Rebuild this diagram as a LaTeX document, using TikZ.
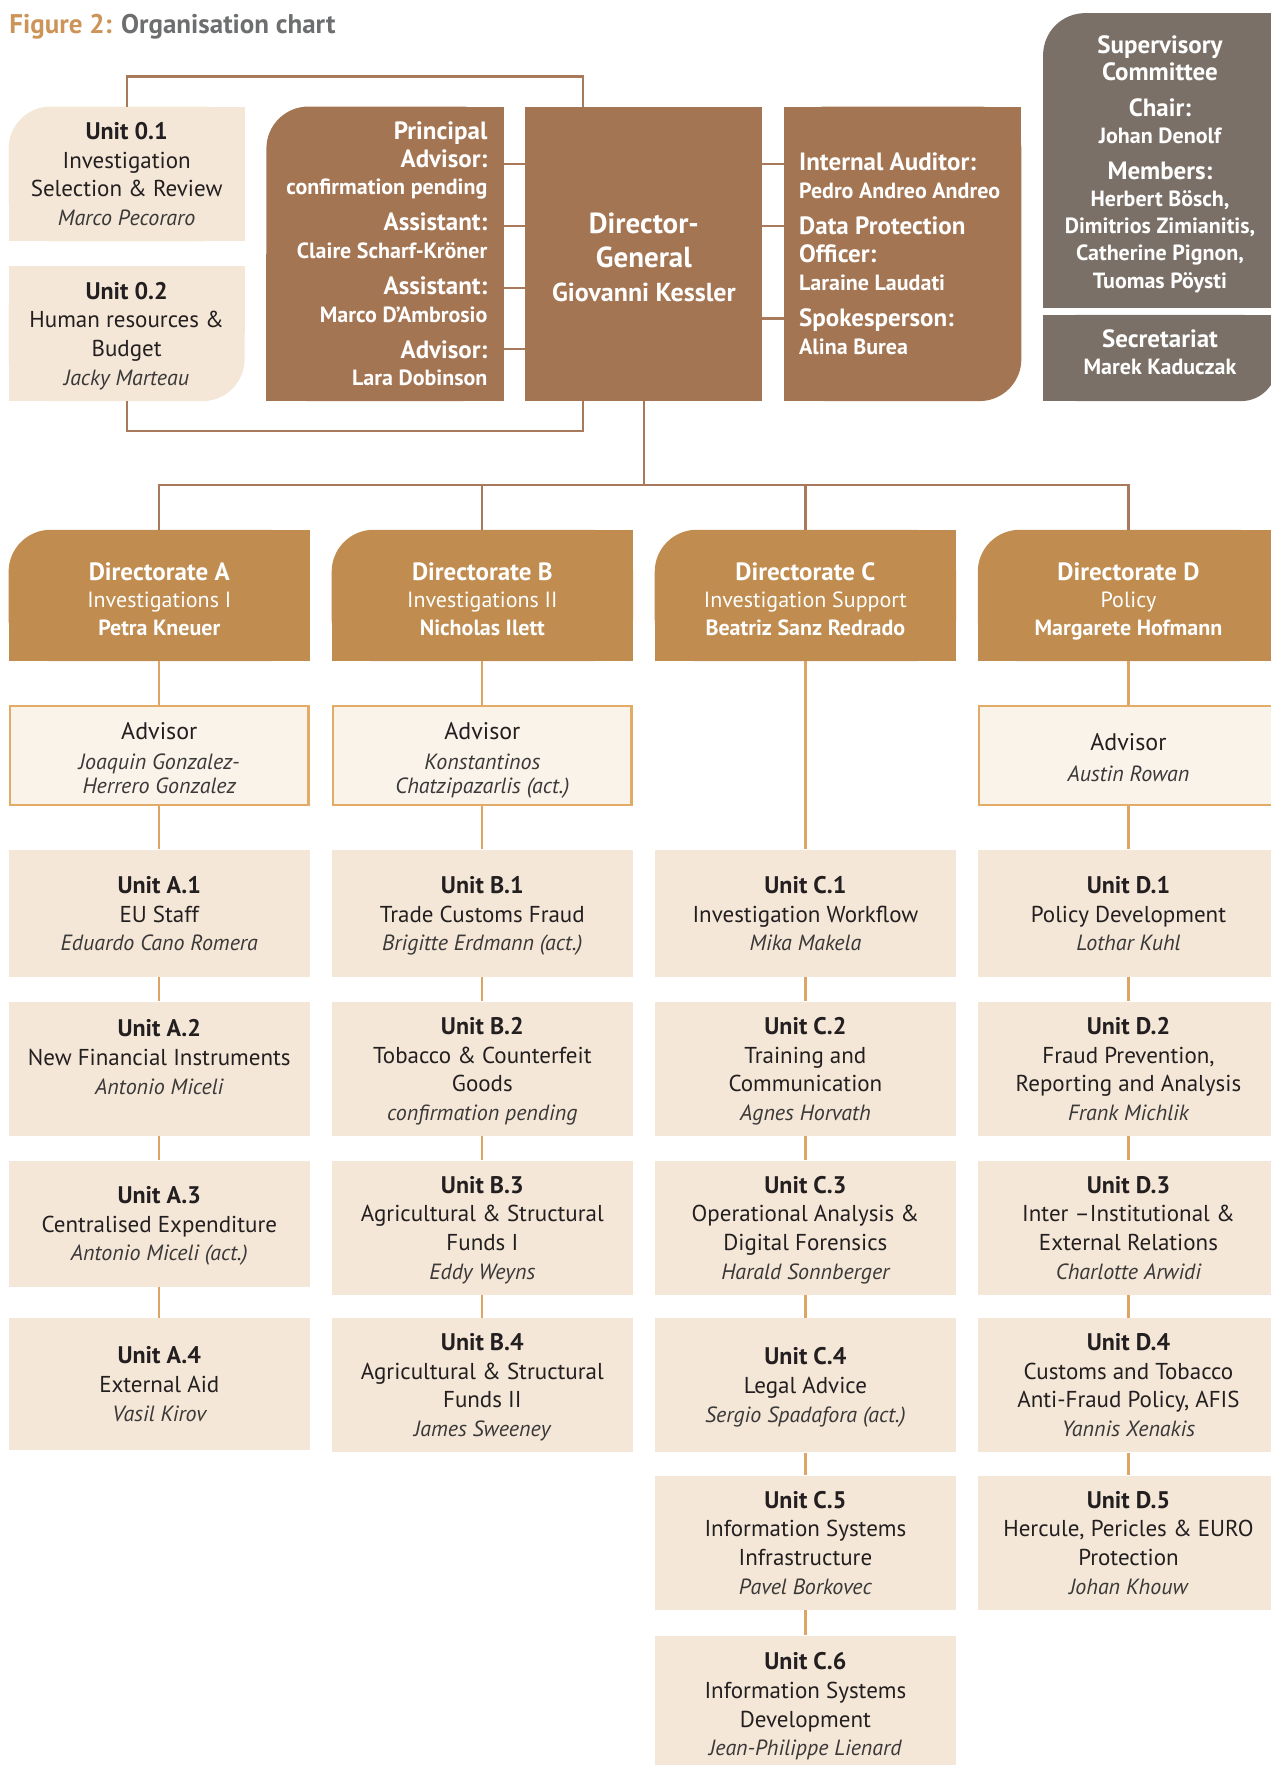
\documentclass[tikz,border=0pt]{standalone}
\usepackage{fontspec}
\setmainfont{PT Sans}
\usetikzlibrary{backgrounds}
\definecolor{brownbox}{HTML}{A47553}
\definecolor{ochre}{HTML}{C08C4F}
\definecolor{graybox}{HTML}{7A7067}
\definecolor{unitfill}{HTML}{F4E7D7}
\definecolor{advfill}{HTML}{FAF3EA}
\definecolor{advline}{HTML}{E2AC66}
\definecolor{linebrown}{HTML}{A8795A}
\definecolor{lineorange}{HTML}{DCA566}
\definecolor{titleorange}{HTML}{CC9459}
\definecolor{titlegray}{HTML}{6D6E70}
\definecolor{txt}{HTML}{231F20}
\definecolor{nametxt}{HTML}{3A3838}
\newcommand\ttl[1]{{\fontsize{12}{14}\selectfont\bfseries #1}}
\newcommand\nm[1]{{\fontsize{11}{14}\selectfont\itshape\color{nametxt}\raisebox{0pt}[\height][0pt]{#1}}}
\newcommand\lab[1]{{\fontsize{12.5}{14}\selectfont\bfseries #1}}
\newcommand\who[1]{{\fontsize{11}{14}\selectfont\bfseries\raisebox{0pt}[\height][0pt]{#1}}}
\newcommand\tp[1]{\rule{0pt}{#1}}
\newcommand\tlround[3]{%
  \fill[#1, rounded corners=#3] (#2.south west) rectangle (#2.north east);
  \fill[#1] (#2.south west) rectangle (#2.east);
  \fill[#1] (#2.south) rectangle (#2.north east);}
\newcommand\brround[3]{%
  \fill[#1, rounded corners=#3] (#2.south west) rectangle (#2.north east);
  \fill[#1] (#2.west) rectangle (#2.north east);
  \fill[#1] (#2.south west) rectangle (#2.north);}
\tikzset{
  every node/.style={inner sep=0pt, text=txt},
  ubox/.style={fill=unitfill, minimum width=150.3pt, minimum height=#1, align=center,
    font=\fontsize{11.5}{14.35}\selectfont},
  advbox/.style={fill=advfill, draw=advline, line width=1.1pt, minimum width=149.2pt,
    minimum height=49.5pt, align=center, font=\fontsize{11}{11.8}\selectfont},
  dirbox/.style={minimum width=150.3pt, minimum height=65.3pt, align=center, text=white,
    font=\fontsize{11}{13.8}\selectfont},
  topbox/.style 2 args={minimum width=#1, minimum height=#2},
  brownline/.style={draw=linebrown, line width=1.1pt},
  orangeline/.style={draw=lineorange, line width=1.1pt},
}
\begin{document}
\begin{tikzpicture}[x=0.5629pt,y=-0.5629pt]
\useasboundingbox (0,0) rectangle (1129,1568);

% title
\node[anchor=base west, font=\fontsize{13.5}{16}\selectfont\bfseries] (title) at (8,30)
  {\color{titleorange}Figure 2: \color{titlegray}Organisation chart};

% top row
\node[topbox={117.6pt}{67pt}, align=center, font=\fontsize{11.5}{14.35}\selectfont] (u01) at (112.5,154.5)
  {\ttl{Unit 0.1}\\Investigation\\Selection \& Review\\\nm{Marco Pecoraro}};
\node[topbox={117.6pt}{67pt}, align=center, font=\fontsize{11.5}{14.35}\selectfont] (u02) at (112.5,296.5)
  {\ttl{Unit 0.2}\\Human resources \&\\Budget\\\nm{Jacky Marteau}};
\node[topbox={118.2pt}{146.9pt}] (pa) at (342,225.5) {};
\node[topbox={118.2pt}{146.9pt}, align=center, text=white, font=\fontsize{14.5}{17}\selectfont\bfseries] (dg) at (572,225.5)
  {\tp{13.8pt}Director-\\General\\{\fontsize{13}{17}\selectfont Giovanni Kessler}};
\node[topbox={118.2pt}{146.9pt}] (ra) at (802,225.5) {};
\node[topbox={116.5pt}{146.9pt}, align=center, text=white, font=\fontsize{11}{13.6}\selectfont] (sup) at (1030.5,142.5)
  {\tp{10.5pt}\lab{Supervisory}\\\lab{Committee}\\[4.2pt]\lab{Chair:}\\\who{Johan Denolf}\\[4.2pt]\lab{Members:}\\\who{Herbert Bösch,}\\\who{Dimitrios Zimianitis,}\\\who{Catherine Pignon,}\\\who{Tuomas Pöysti}};
\node[topbox={116.5pt}{42.8pt}] (sec) at (1030.5,318) {};
\node[align=center, text=white, font=\fontsize{11}{13.6}\selectfont] (sectext) at ([yshift=3.1pt]sec.center)
  {\lab{Secretariat}\\\who{Marek Kaduczak}};

\node[anchor=east, align=right, text=white, font=\fontsize{11}{13.8}\selectfont] (patext) at ([xshift=-7.9pt]pa.east)
  {\lab{Principal}\\\lab{Advisor:}\\\who{confirmation pending}\\[4.2pt]\lab{Assistant:}\\\who{Claire Scharf-Kröner}\\[4.2pt]\lab{Assistant:}\\\who{Marco D’Ambrosio}\\[4.2pt]\lab{Advisor:}\\\who{Lara Dobinson}};
\node[anchor=west, align=left, text=white, font=\fontsize{11}{14}\selectfont] (ratext) at ([xshift=7.3pt]ra.west)
  {\lab{Internal Auditor:}\\\who{Pedro Andreo Andreo}\\[3.9pt]\lab{Data Protection}\\\lab{Officer:}\\\who{Laraine Laudati}\\[3.9pt]\lab{Spokesperson:}\\\who{Alina Burea}};

% directorates
\node[dirbox] (dirA) at (141.5,529) {\tp{12.4pt}\lab{Directorate A}\\Investigations I\\\who{Petra Kneuer}};
\node[dirbox] (dirB) at (428.5,529) {\tp{12.4pt}\lab{Directorate B}\\Investigations II\\\who{Nicholas Ilett}};
\node[dirbox] (dirC) at (715.5,529) {\tp{12.4pt}\lab{Directorate C}\\Investigation Support\\\who{Beatriz Sanz Redrado}};
\node[dirbox] (dirD) at (1002.5,529) {\tp{12.4pt}\lab{Directorate D}\\Policy\\\who{Margarete Hofmann}};

% advisors
\node[advbox] (advA) at (141.5,671) {\tp{10.8pt}{\fontsize{12}{12}\selectfont Advisor}\\[3.4pt]\nm{Joaquin Gonzalez-}\\\nm{Herrero Gonzalez}};
\node[advbox] (advB) at (428.5,671) {\tp{10.8pt}{\fontsize{12}{12}\selectfont Advisor}\\[3.4pt]\nm{Konstantinos}\\\nm{Chatzipazarlis (act.)}};
\node[advbox] (advD) at (1002.5,671) {\tp{10.8pt}{\fontsize{12}{12}\selectfont Advisor}\\[3.4pt]\nm{Austin Rowan}};

% units A
\node[ubox=63.6pt] (A1) at (141.5,811.5) {\ttl{Unit A.1}\\EU Staff\\\nm{Eduardo Cano Romera}};
\node[ubox=67pt] (A2) at (141.5,949.5) {\ttl{Unit A.2}\\New Financial Instruments\\\nm{Antonio Miceli}\rule[-11.8pt]{0pt}{11.8pt}};
\node[ubox=63pt] (A3) at (141.5,1087) {\ttl{Unit A.3}\\Centralised Expenditure\\\nm{Antonio Miceli (act.)}};
\node[ubox=65.9pt] (A4) at (141.5,1229.5) {\ttl{Unit A.4}\\External Aid\\\nm{Vasil Kirov}};
% units B
\node[ubox=63.6pt] (B1) at (428.5,811.5) {\ttl{Unit B.1}\\Trade Customs Fraud\\\nm{Brigitte Erdmann (act.)}};
\node[ubox=67pt] (B2) at (428.5,949.5) {\ttl{Unit B.2}\\Tobacco \& Counterfeit\\Goods\\\nm{confirmation pending}};
\node[ubox=67pt] (B3) at (428.5,1090.5) {\ttl{Unit B.3}\\Agricultural \& Structural\\Funds I\\\nm{Eddy Weyns}};
\node[ubox=67pt] (B4) at (428.5,1230.5) {\ttl{Unit B.4}\\Agricultural \& Structural\\Funds II\\\nm{James Sweeney}};
% units C
\node[ubox=63.6pt] (C1) at (715.5,811.5) {\ttl{Unit C.1}\\Investigation Workflow\\\nm{Mika Makela}};
\node[ubox=67pt] (C2) at (715.5,949.5) {\ttl{Unit C.2}\\Training and\\Communication\\\nm{Agnes Horvath}};
\node[ubox=67pt] (C3) at (715.5,1090.5) {\ttl{Unit C.3}\\Operational Analysis \&\\Digital Forensics\\\nm{Harald Sonnberger}};
\node[ubox=67pt] (C4) at (715.5,1230.5) {\ttl{Unit C.4}\\Legal Advice\\\nm{Sergio Spadafora (act.)}};
\node[ubox=67pt] (C5) at (715.5,1370.5) {\ttl{Unit C.5}\\Information Systems\\Infrastructure\\\nm{Pavel Borkovec}};
\node[ubox=68.7pt] (C6) at (715.5,1514) {\ttl{Unit C.6}\\Information Systems\\Development\\\nm{Jean-Philippe Lienard}};
% units D
\node[ubox=63.6pt] (D1) at (1002.5,811.5) {\ttl{Unit D.1}\\Policy Development\\\nm{Lothar Kuhl}};
\node[ubox=67pt] (D2) at (1002.5,949.5) {\ttl{Unit D.2}\\Fraud Prevention,\\Reporting and Analysis\\\nm{Frank Michlik}};
\node[ubox=67pt] (D3) at (1002.5,1090.5) {\ttl{Unit D.3}\\Inter –Institutional \&\\External Relations\\\nm{Charlotte Arwidi}};
\node[ubox=67pt] (D4) at (1002.5,1230.5) {\ttl{Unit D.4}\\Customs and Tobacco\\Anti-Fraud Policy, AFIS\\\nm{Yannis Xenakis}};
\node[ubox=67pt] (D5) at (1002.5,1370.5) {\ttl{Unit D.5}\\Hercule, Pericles \& EURO\\Protection\\\nm{Johan Khouw}};

% shaped fills
\begin{scope}[on background layer]
  \tlround{unitfill}{u01}{21pt}
  \brround{unitfill}{u02}{21pt}
  \tlround{brownbox}{pa}{21pt}
  \fill[brownbox] (dg.south west) rectangle (dg.north east);
  \brround{brownbox}{ra}{21pt}
  \tlround{graybox}{sup}{21pt}
  \brround{graybox}{sec}{18pt}
  \tlround{ochre}{dirA}{21pt}
  \tlround{ochre}{dirB}{21pt}
  \tlround{ochre}{dirC}{21pt}
  \tlround{ochre}{dirD}{21pt}
\end{scope}

% connectors: top bracket
\coordinate (brtop) at (518,68);
\coordinate (brbot) at (518,383);
\draw[brownline] (u01.north) |- (brtop) -- (brtop |- dg.north);
\draw[brownline] (u02.south) |- (brbot) -- (brbot |- dg.south);
% side connectors
\coordinate (l1) at (457,146);
\coordinate (l2) at (457,201);
\coordinate (l3) at (457,256);
\coordinate (l4) at (457,310);
\coordinate (r1) at (687,146);
\coordinate (r2) at (687,201);
\coordinate (r3) at (687,283);
\foreach \c in {l1,l2,l3,l4} \draw[brownline] (pa.east |- \c) -- (dg.west |- \c);
\foreach \c in {r1,r2,r3} \draw[brownline] (dg.east |- \c) -- (ra.west |- \c);
% bus to directorates
\coordinate (bus) at (572,431);
\draw[brownline] (dg.south) -- (bus);
\draw[brownline] (dirA.north) |- (bus);
\draw[brownline] (dirD.north) |- (bus);
\draw[brownline] (dirB.north) -- (dirB.north |- bus);
\draw[brownline] (dirC.north) -- (dirC.north |- bus);
% column connectors
\draw[orangeline] (dirA.south) -- (advA.north);
\draw[orangeline] (advA.south) -- (A1.north);
\draw[orangeline] (A1.south) -- (A2.north);
\draw[orangeline] (A2.south) -- (A3.north);
\draw[orangeline] (A3.south) -- (A4.north);
\draw[orangeline] (dirB.south) -- (advB.north);
\draw[orangeline] (advB.south) -- (B1.north);
\draw[orangeline] (B1.south) -- (B2.north);
\draw[orangeline] (B2.south) -- (B3.north);
\draw[orangeline] (B3.south) -- (B4.north);
\draw[orangeline] (dirC.south) -- (C1.north);
\draw[orangeline] (C1.south) -- (C2.north);
\draw[orangeline] (C2.south) -- (C3.north);
\draw[orangeline] (C3.south) -- (C4.north);
\draw[orangeline] (C4.south) -- (C5.north);
\draw[orangeline] (C5.south) -- (C6.north);
\draw[orangeline] (dirD.south) -- (advD.north);
\draw[orangeline] (advD.south) -- (D1.north);
\draw[orangeline] (D1.south) -- (D2.north);
\draw[orangeline] (D2.south) -- (D3.north);
\draw[orangeline] (D3.south) -- (D4.north);
\draw[orangeline] (D4.south) -- (D5.north);
\end{tikzpicture}
\end{document}
